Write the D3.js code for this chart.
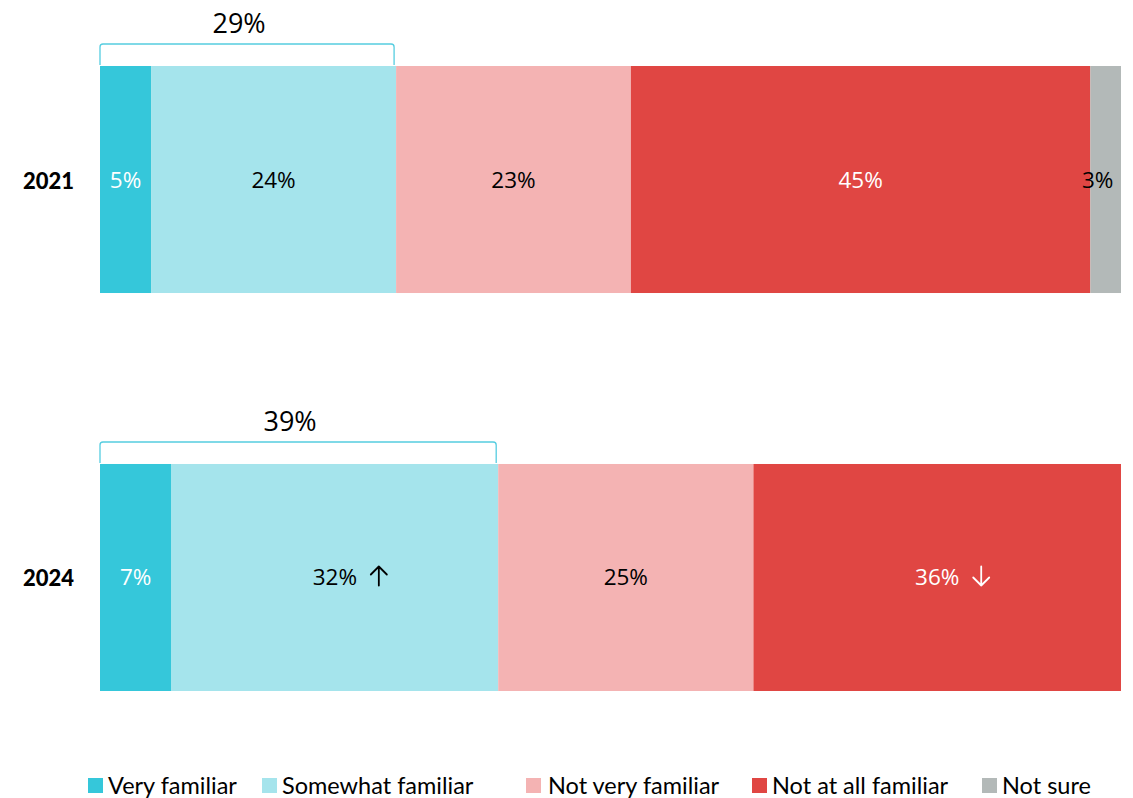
<!DOCTYPE html>
<html>
<head>
<meta charset="utf-8">
<script src="https://cdn.jsdelivr.net/npm/d3@7"></script>
<style>
  html, body { margin: 0; padding: 0; background: #fff; }
  svg { display: block; }
</style>
</head>
<body>
<svg id="chart" width="1133" height="798"></svg>
<script>
// Familiarity survey: share of respondents per answer, by year
const years = ["2021", "2024"];
const categories = ["Very familiar", "Somewhat familiar", "Not very familiar", "Not at all familiar", "Not sure"];
const colors = ["#35C7DA", "#A5E4EC", "#F4B3B3", "#E04643", "#B3B9B8"];
const labelColors = ["#fff", "#000", "#000", "#fff", "#000"];
const values2021 = [5, 24, 23, 45, 3];
const values2024 = [7, 32, 25, 36, 0];
const change2021 = ["", "", "", "", ""];
const change2024 = ["", "↑", "", "↓", ""];
// the two "familiar" answers are summarised by a bracket above each bar
const bracketCount = 2;

const rows = [
  { year: years[0], values: values2021, change: change2021 },
  { year: years[1], values: values2024, change: change2024 }
];

const svg = d3.select("#chart");

const x = d3.scaleLinear().domain([0, 100]).range([100, 1121]);
const y = d3.scaleBand().domain(years).range([66, 691]).paddingInner(0.4296).paddingOuter(0);

// stacked segments
const segs = [];
rows.forEach(r => {
  let acc = 0;
  r.values.forEach((v, i) => {
    segs.push({ year: r.year, i, v, x0: acc, x1: acc + v, change: r.change[i] });
    acc += v;
  });
});

const drawn = segs.filter(d => d.v > 0);

svg.append("g").selectAll("rect").data(drawn).join("rect")
  .attr("x", d => x(d.x0))
  .attr("y", d => y(d.year))
  .attr("width", d => x(d.x1) - x(d.x0))
  .attr("height", y.bandwidth())
  .attr("fill", d => colors[d.i]);

// value labels
const lab = svg.append("g").style("font-family", "'Open Sans', sans-serif").style("font-size", "22.5px");
lab.selectAll("text.val").data(drawn).join("text")
  .attr("class", "val")
  .attr("x", d => (x(d.x0) + x(d.x1)) / 2 - (d.i === 4 ? 8 : 0))
  .attr("y", d => y(d.year) + y.bandwidth() / 2 + 8)
  .attr("text-anchor", "middle")
  .attr("fill", d => labelColors[d.i])
  .text(d => d.v + "%");

// change arrows drawn as strokes after the value
const arrows = drawn.filter(d => d.change);
const ag = svg.append("g").attr("fill", "none").attr("stroke-width", 1.8)
  .attr("stroke-linecap", "round").attr("stroke-linejoin", "round");
arrows.forEach(d => {
  const cx = (x(d.x0) + x(d.x1)) / 2 + 44;
  const cy = y(d.year) + y.bandwidth() / 2;
  const up = d.change === "↑";
  const y0 = cy - 11, y1 = cy + 8;
  const tip = up ? y0 : y1, tail = up ? y1 : y0, dir = up ? 1 : -1;
  const p = d3.path();
  p.moveTo(cx, tail); p.lineTo(cx, tip);
  p.moveTo(cx - 8, tip + 8 * dir); p.lineTo(cx, tip); p.lineTo(cx + 8, tip + 8 * dir);
  ag.append("path").attr("d", p.toString()).attr("stroke", labelColors[d.i]);
});

// year labels
svg.append("g").selectAll("text").data(years).join("text")
  .attr("x", 74)
  .attr("y", d => y(d) + y.bandwidth() / 2 + 9)
  .attr("text-anchor", "end")
  .style("font-family", "Lato, sans-serif")
  .style("font-weight", "900")
  .style("font-size", "22px")
  .attr("fill", "#000")
  .text(d => d);

// brackets summarising the familiar answers
const brackets = rows.map(r => ({ year: r.year, total: d3.sum(r.values.slice(0, bracketCount)) }));
const bg = svg.append("g");
brackets.forEach(b => {
  const x0 = x(0), x1 = x(b.total) - 2;
  const top = y(b.year) - 22, bottom = y(b.year) - 1, r = 3;
  const p = d3.path();
  p.moveTo(x0, bottom);
  p.lineTo(x0, top + r);
  p.quadraticCurveTo(x0, top, x0 + r, top);
  p.lineTo(x1 - r, top);
  p.quadraticCurveTo(x1, top, x1, top + r);
  p.lineTo(x1, bottom);
  bg.append("path").attr("d", p.toString())
    .attr("fill", "none").attr("stroke", "#55CDE0").attr("stroke-width", 1.3);
  bg.append("text")
    .attr("x", (x0 + x1) / 2 - 8)
    .attr("y", top - 11)
    .attr("text-anchor", "middle")
    .style("font-family", "'Open Sans', sans-serif")
    .style("font-size", "27px")
    .attr("fill", "#000")
    .text(b.total + "%");
});

// legend
const legendX = [88, 262, 526, 752, 982];
const lg = svg.append("g").selectAll("g").data(categories).join("g")
  .attr("transform", (d, i) => `translate(${legendX[i]},778)`);
lg.append("rect").attr("width", 15).attr("height", 15).attr("fill", (d, i) => colors[i]);
lg.append("text")
  .attr("x", (d, i) => i === 2 ? 22 : 20).attr("y", 16)
  .style("font-family", "Lato, sans-serif")
  .style("font-size", "23.5px")
  .attr("fill", "#000")
  .text(d => d);
</script>
</body>
</html>
